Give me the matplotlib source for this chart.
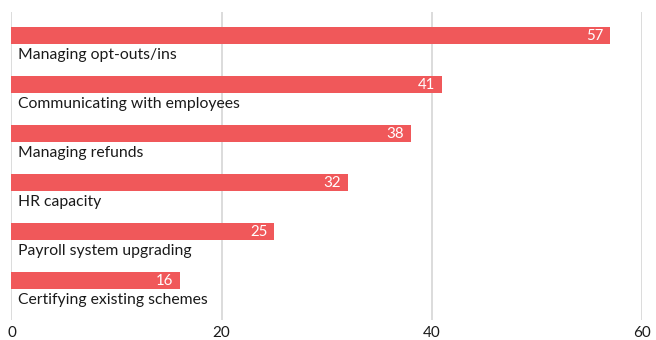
import numpy as np
import matplotlib.pyplot as plt

categories = [
    "Managing opt-outs/ins",
    "Communicating with employees",
    "Managing refunds",
    "HR capacity",
    "Payroll system upgrading",
    "Certifying existing schemes",
]
values = [57, 41, 38, 32, 25, 16]
x_ticks = [0, 20, 40, 60]

BAR_COLOR = "#f0585a"
GRID_COLOR = "#d6d6d6"
TEXT_COLOR = "#1a1a1a"

plt.rcParams["font.family"] = ["Lato", "DejaVu Sans"]

fig = plt.figure(figsize=(6.56, 3.4), dpi=100)
ax = fig.add_axes([0.0175, 0.0588, 0.9612, 0.9059])

rows = np.arange(len(categories))
ax.barh(rows, values, height=0.347, color=BAR_COLOR, zorder=3)

for i, (name, v) in enumerate(zip(categories, values)):
    # category name sits just under its bar
    ax.text(0.6, i + 0.40, name, ha="left", va="center", fontsize=11.3,
            color=TEXT_COLOR, zorder=4)
    ax.annotate(str(v), xy=(v, i), xytext=(-5, 0), textcoords="offset points",
                ha="right", va="center", fontsize=10.8, color="white", zorder=4)

ax.set_xlim(0, 60)
ax.set_ylim(5.806, -0.48)
ax.set_xticks(x_ticks)
ax.set_yticks([])
ax.xaxis.grid(True, color=GRID_COLOR, linewidth=1.2, zorder=0)
ax.tick_params(axis="x", length=0, pad=4, labelsize=11, labelcolor=TEXT_COLOR)
for s in ax.spines.values():
    s.set_visible(False)

fig.savefig("out.png", dpi=100)
